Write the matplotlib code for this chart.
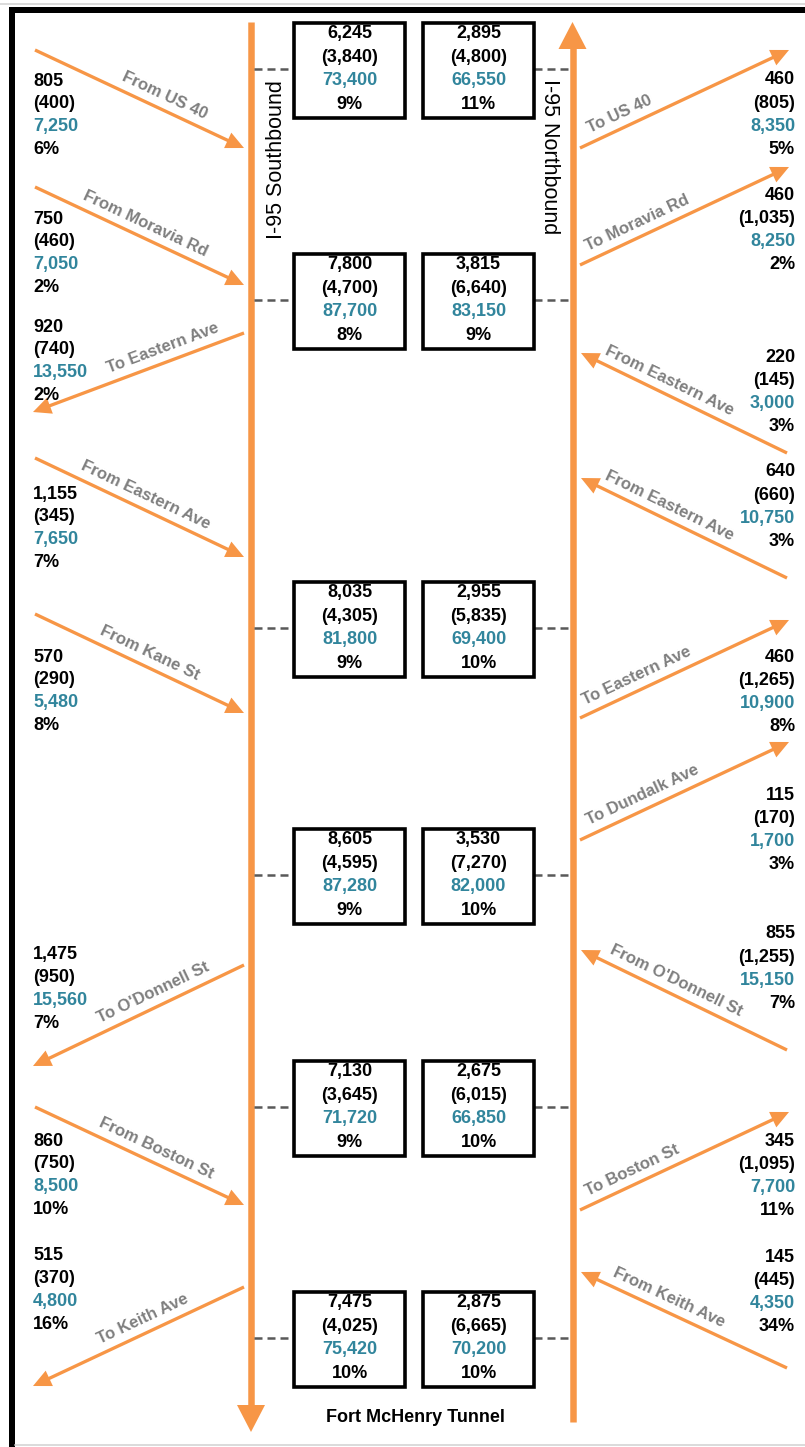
import numpy as np
import matplotlib
matplotlib.use("Agg")
import matplotlib.pyplot as plt
from matplotlib.patches import Polygon, Rectangle

# ---- mainline boxes (north -> south) ----
sb_am = [6245, 7800, 8035, 8605, 7130, 7475]
sb_pm = [3840, 4700, 4305, 4595, 3645, 4025]
sb_adt = [73400, 87700, 81800, 87280, 71720, 75420]
sb_trk = [9, 8, 9, 9, 9, 10]

nb_am = [2895, 3815, 2955, 3530, 2675, 2875]
nb_pm = [4800, 6640, 5835, 7270, 6015, 6665]
nb_adt = [66550, 83150, 69400, 82000, 66850, 70200]
nb_trk = [11, 9, 10, 10, 10, 10]

# ---- southbound ramps (left side) ----
left_names = ["From US 40", "From Moravia Rd", "To Eastern Ave", "From Eastern Ave",
              "From Kane St", "To O'Donnell St", "From Boston St", "To Keith Ave"]
left_am = [805, 750, 920, 1155, 570, 1475, 860, 515]
left_pm = [400, 460, 740, 345, 290, 950, 750, 370]
left_adt = [7250, 7050, 13550, 7650, 5480, 15560, 8500, 4800]
left_trk = [6, 2, 2, 7, 8, 7, 10, 16]

# ---- northbound ramps (right side) ----
right_names = ["To US 40", "To Moravia Rd", "From Eastern Ave", "From Eastern Ave",
               "To Eastern Ave", "To Dundalk Ave", "From O'Donnell St", "To Boston St",
               "From Keith Ave"]
right_am = [460, 460, 220, 640, 460, 115, 855, 345, 145]
right_pm = [805, 1035, 145, 660, 1265, 170, 1255, 1095, 445]
right_adt = [8350, 8250, 3000, 10750, 10900, 1700, 15150, 7700, 4350]
right_trk = [5, 2, 3, 3, 8, 3, 7, 11, 34]

# ---- layout (pixel coords, y down) ----
W, H = 805, 1447
PX = 0.72  # points per pixel at dpi 100
ORANGE = '#F79646'
TEAL = '#31859C'
GRAY = '#7F7F7F'
DASH = '#595959'
FONT = 'Liberation Sans'

sb_x, nb_x = 251, 572.5
row_y = [69, 300, 628, 875, 1107, 1338]
sb_box = (294, 405)
nb_box = (423, 534)

# (y at highway, y at outer end, label position along line, y of first number)
left_geom = [(148, 50, 0.59, 81), (285, 187, 0.50, 219), (333, 412, 0.36, 327),
             (557, 458, 0.50, 494), (713, 614, 0.52, 657), (965, 1066, 0.40, 955),
             (1205, 1107, 0.55, 1141), (1287, 1386, 0.45, 1256)]
right_geom = [(148, 50, 0.22, 80), (265, 167, 0.30, 195), (353, 453, 0.60, 357),
              (478, 578, 0.60, 472), (718, 620, 0.30, 657), (840, 742, 0.33, 795),
              (950, 1050, 0.57, 934), (1210, 1112, 0.28, 1141), (1272, 1368, 0.60, 1257)]

fig = plt.figure(figsize=(W / 100, H / 100), dpi=100)
ax = fig.add_axes([0, 0, 1, 1])
ax.set_xlim(0, W)
ax.set_ylim(H, 0)
ax.axis('off')


def arrow(x0, y0, x1, y1, lw_px, head_len, head_half):
    d = np.array([x1 - x0, y1 - y0], float)
    u = d / np.hypot(*d)
    n = np.array([-u[1], u[0]])
    base = np.array([x1, y1]) - u * head_len
    end = base + u * 2
    ax.plot([x0, end[0]], [y0, end[1]], color=ORANGE, lw=lw_px * PX,
            solid_capstyle='butt', zorder=2)
    tri = [(x1, y1), base + n * head_half, base - n * head_half]
    ax.add_patch(Polygon(tri, closed=True, facecolor=ORANGE, lw=0, zorder=2))


def ramp_label(x0, y0, x1, y1, t, name):
    d = np.array([x1 - x0, y1 - y0], float)
    u = d / np.hypot(*d)
    n = np.array([-u[1], u[0]])
    if n[1] > 0:
        n = -n
    c = np.array([x0, y0]) + d * t + n * 14
    ang = np.degrees(np.arctan2(-(y1 - y0), x1 - x0))
    if ang > 90:
        ang -= 180
    if ang < -90:
        ang += 180
    ax.text(c[0], c[1], name, rotation=ang, rotation_mode='anchor', ha='center',
            va='center', fontsize=12, fontweight='bold', color=GRAY, family=FONT)


def block(x, y, am, pm, adt, trk, ha, step):
    lines = [f'{am:,}', f'({pm:,})', f'{adt:,}', f'{trk}%']
    cols = ['black', 'black', TEAL, 'black']
    for i, (s, c) in enumerate(zip(lines, cols)):
        ax.text(x, y + i * step, s, ha=ha, va='center', fontsize=13,
                fontweight='bold', color=c, family=FONT, zorder=3)


# frame
ax.plot([12, 12], [7, H], color='black', lw=6 * PX, solid_capstyle='butt')
ax.plot([9, W], [10, 10], color='black', lw=6 * PX, solid_capstyle='butt')
ax.plot([0, W], [4, 4], color='#D0D0D0', lw=1.5 * PX)
ax.plot([15, W], [1445, 1445], color='#D0D0D0', lw=1.5 * PX)

# mainline arrows
arrow(sb_x, 22, sb_x, 1432, 6.5, 27, 14)
arrow(nb_x, 1422, nb_x, 22, 6.5, 27, 14)

ax.text(276, 160, 'I-95 Southbound', rotation=90, ha='center', va='center',
        fontsize=15.5, family=FONT)
ax.text(549, 157, 'I-95 Northbound', rotation=270, ha='center', va='center',
        fontsize=15.5, family=FONT)
ax.text(415, 1417, 'Fort McHenry Tunnel', ha='center', va='center', fontsize=13,
        fontweight='bold', family=FONT)

# mainline boxes
for i, yc in enumerate(row_y):
    ax.plot([sb_x + 3, sb_box[0]], [yc, yc], color=DASH, lw=1.8, linestyle=(0, (3.2, 2)))
    ax.plot([nb_box[1], nb_x - 3], [yc, yc], color=DASH, lw=1.8, linestyle=(0, (3.2, 2)))
    for (bx0, bx1), am, pm, adt, trk in [(sb_box, sb_am[i], sb_pm[i], sb_adt[i], sb_trk[i]),
                                         (nb_box, nb_am[i], nb_pm[i], nb_adt[i], nb_trk[i])]:
        ax.add_patch(Rectangle((bx0, yc - 46), bx1 - bx0, 95, facecolor='none',
                               edgecolor='black', lw=2.6, zorder=5))
        block((bx0 + bx1) / 2, yc - 35.5, am, pm, adt, trk, 'center', 23.7)

# left ramps
for i, (y_hw, y_out, t, y_txt) in enumerate(left_geom):
    name = left_names[i]
    if name.startswith('From'):
        x0, y0, x1, y1 = 35, y_out, 244, y_hw
    else:
        x0, y0, x1, y1 = 244, y_hw, 33, y_out
    arrow(x0, y0, x1, y1, 3.3, 18, 8.5)
    ramp_label(x0, y0, x1, y1, t, name)
    block(33, y_txt, left_am[i], left_pm[i], left_adt[i], left_trk[i], 'left', 22.8)

# right ramps
for i, (y_hw, y_out, t, y_txt) in enumerate(right_geom):
    name = right_names[i]
    if name.startswith('From'):
        x0, y0, x1, y1 = 787, y_out, 581, y_hw
    else:
        x0, y0, x1, y1 = 580, y_hw, 789, y_out
    arrow(x0, y0, x1, y1, 3.3, 18, 8.5)
    ramp_label(x0, y0, x1, y1, t, name)
    block(795, y_txt, right_am[i], right_pm[i], right_adt[i], right_trk[i], 'right', 23.2)

fig.savefig('out.png', dpi=100)
